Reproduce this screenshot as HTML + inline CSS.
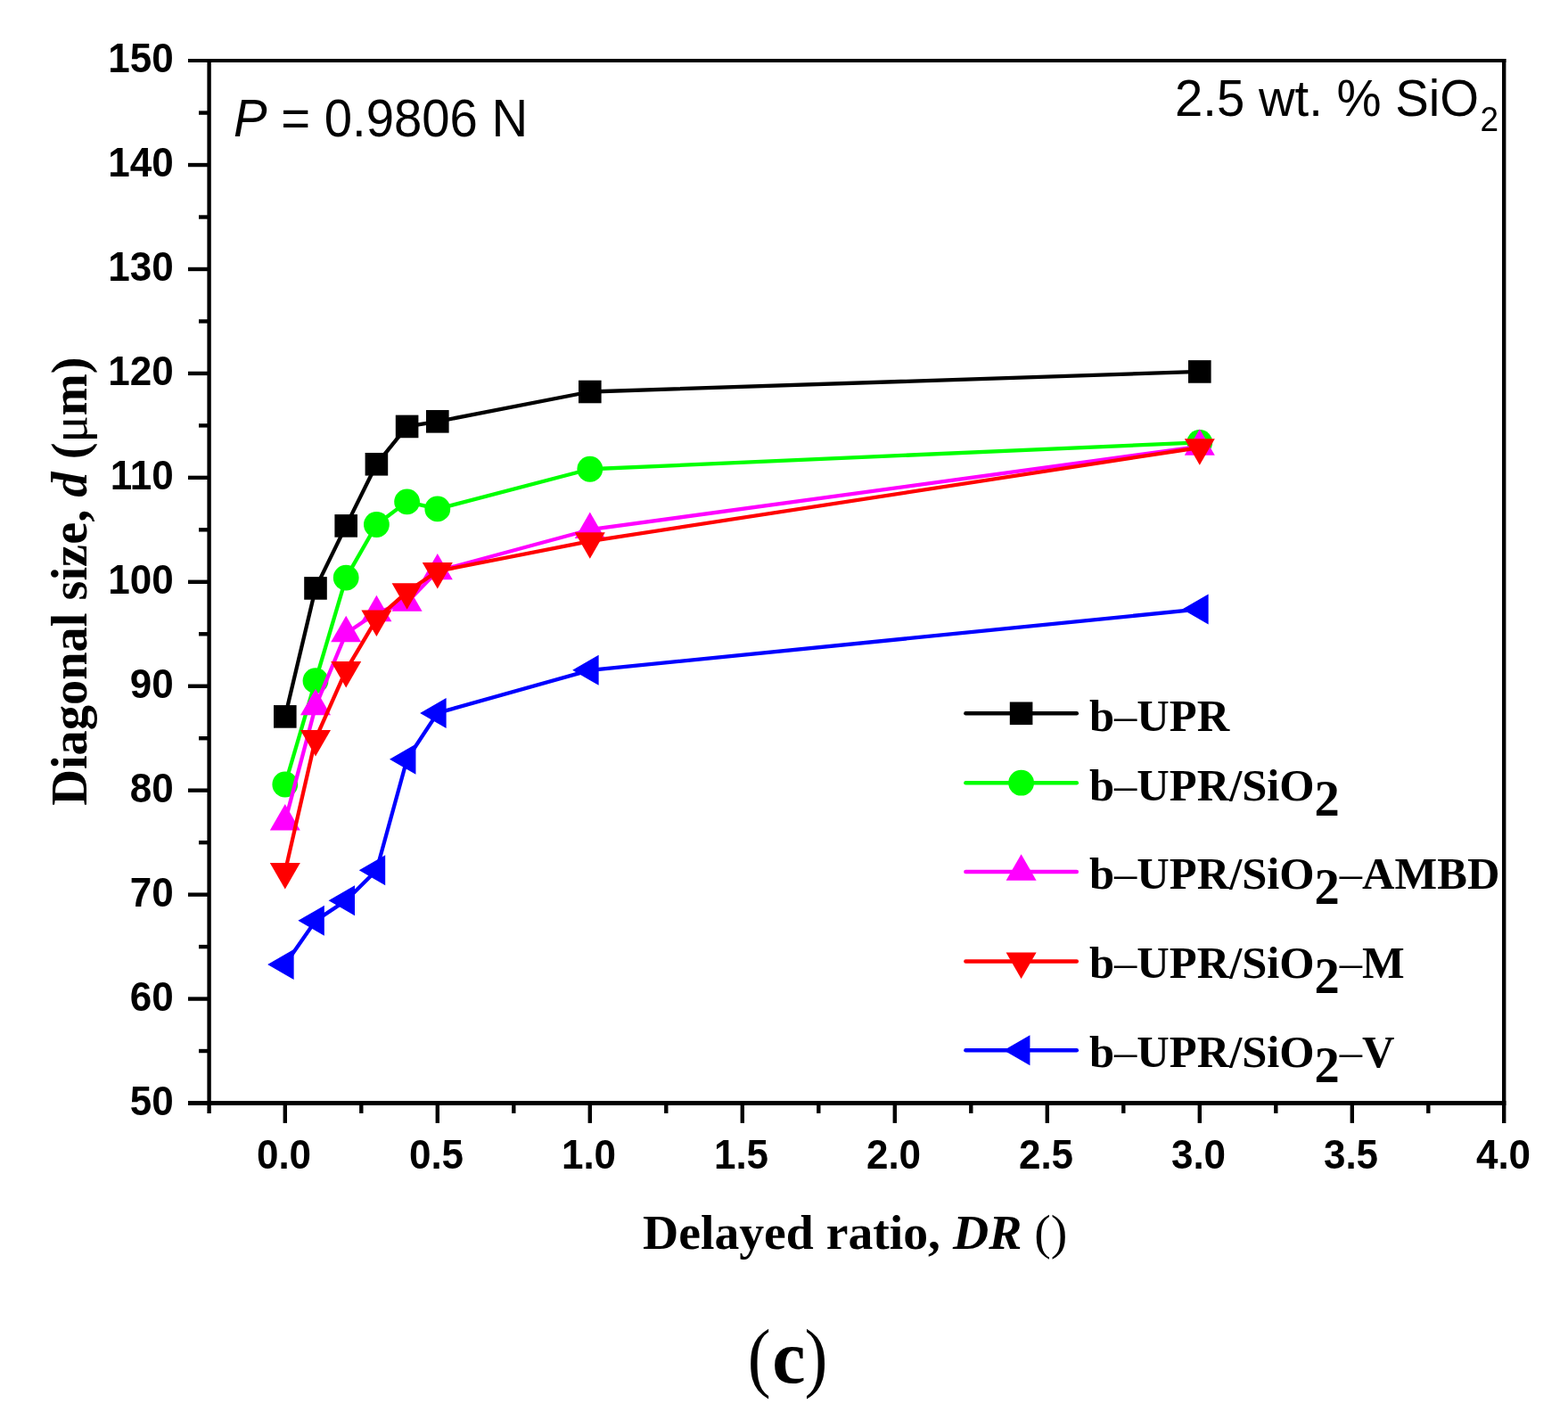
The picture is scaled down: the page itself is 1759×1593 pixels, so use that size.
<!DOCTYPE html>
<html lang="en"><head><meta charset="utf-8"><title>Diagonal size vs delayed ratio</title>
<style>html,body{margin:0;padding:0;background:#fff;}body{width:1759px;height:1593px;overflow:hidden;}svg{display:block;}.tk{font-family:"Liberation Sans",Arial,sans-serif;font-weight:bold;font-size:44px;}.sr{font-family:"Liberation Serif","Times New Roman",serif;font-weight:bold;}.ss{font-family:"Liberation Sans",Arial,sans-serif;}</style></head><body>
<svg width="1759" height="1593" viewBox="0 0 1759 1593">
<rect width="1759" height="1593" fill="#fff"/>
<polyline points="319.8,803.89 354,659.93 388.2,589.89 422.4,520.77 456.6,478.44 490.8,472.83 661.8,439.5 1345.8,416.93" fill="none" stroke="#000000" stroke-width="4.3" stroke-linejoin="round"/>
<rect x="307" y="791.09" width="25.6" height="25.6" fill="#000000"/>
<rect x="341.2" y="647.13" width="25.6" height="25.6" fill="#000000"/>
<rect x="375.4" y="577.09" width="25.6" height="25.6" fill="#000000"/>
<rect x="409.6" y="507.97" width="25.6" height="25.6" fill="#000000"/>
<rect x="443.8" y="465.64" width="25.6" height="25.6" fill="#000000"/>
<rect x="478" y="460.03" width="25.6" height="25.6" fill="#000000"/>
<rect x="649" y="426.7" width="25.6" height="25.6" fill="#000000"/>
<rect x="1333" y="404.13" width="25.6" height="25.6" fill="#000000"/>
<polyline points="319.8,880.01 354,763.66 388.2,648.12 422.4,588.48 456.6,562.87 490.8,570.94 661.8,526.27 1345.8,496.33" fill="none" stroke="#00FF00" stroke-width="4.3" stroke-linejoin="round"/>
<circle cx="319.8" cy="880.01" r="14.4" fill="#00FF00"/>
<circle cx="354" cy="763.66" r="14.4" fill="#00FF00"/>
<circle cx="388.2" cy="648.12" r="14.4" fill="#00FF00"/>
<circle cx="422.4" cy="588.48" r="14.4" fill="#00FF00"/>
<circle cx="456.6" cy="562.87" r="14.4" fill="#00FF00"/>
<circle cx="490.8" cy="570.94" r="14.4" fill="#00FF00"/>
<circle cx="661.8" cy="526.27" r="14.4" fill="#00FF00"/>
<circle cx="1345.8" cy="496.33" r="14.4" fill="#00FF00"/>
<polyline points="319.8,921.65 354,792.43 388.2,710.45 422.4,687.41 456.6,675.84 490.8,640.52 661.8,594.21 1345.8,500.89" fill="none" stroke="#FF00FF" stroke-width="4.3" stroke-linejoin="round"/>
<polygon points="319.8,902.02 336.8,931.46 302.8,931.46" fill="#FF00FF"/>
<polygon points="354,772.8 371,802.24 337,802.24" fill="#FF00FF"/>
<polygon points="388.2,690.82 405.2,720.27 371.2,720.27" fill="#FF00FF"/>
<polygon points="422.4,667.78 439.4,697.23 405.4,697.23" fill="#FF00FF"/>
<polygon points="456.6,656.21 473.6,685.65 439.6,685.65" fill="#FF00FF"/>
<polygon points="490.8,620.89 507.8,650.34 473.8,650.34" fill="#FF00FF"/>
<polygon points="661.8,574.58 678.8,604.03 644.8,604.03" fill="#FF00FF"/>
<polygon points="1345.8,481.27 1362.8,510.71 1328.8,510.71" fill="#FF00FF"/>
<polyline points="319.8,977.89 354,828.79 388.2,751.85 422.4,694.31 456.6,664.03 490.8,640.76 661.8,607.08 1345.8,502.06" fill="none" stroke="#FF0000" stroke-width="4.3" stroke-linejoin="round"/>
<polygon points="319.8,997.52 336.8,968.08 302.8,968.08" fill="#FF0000"/>
<polygon points="354,848.42 371,818.98 337,818.98" fill="#FF0000"/>
<polygon points="388.2,771.48 405.2,742.03 371.2,742.03" fill="#FF0000"/>
<polygon points="422.4,713.94 439.4,684.5 405.4,684.5" fill="#FF0000"/>
<polygon points="456.6,683.66 473.6,654.21 439.6,654.21" fill="#FF0000"/>
<polygon points="490.8,660.39 507.8,630.94 473.8,630.94" fill="#FF0000"/>
<polygon points="661.8,626.71 678.8,597.26 644.8,597.26" fill="#FF0000"/>
<polygon points="1345.8,521.69 1362.8,492.25 1328.8,492.25" fill="#FF0000"/>
<polyline points="319.8,1082.09 354,1032.86 388.2,1010.17 422.4,976.26 456.6,851.71 490.8,799.91 661.8,751.85 1345.8,683.44" fill="none" stroke="#0000FF" stroke-width="4.3" stroke-linejoin="round"/>
<polygon points="300.17,1082.09 329.61,1065.09 329.61,1099.09" fill="#0000FF"/>
<polygon points="334.37,1032.86 363.81,1015.86 363.81,1049.86" fill="#0000FF"/>
<polygon points="368.57,1010.17 398.01,993.17 398.01,1027.17" fill="#0000FF"/>
<polygon points="402.77,976.26 432.21,959.26 432.21,993.26" fill="#0000FF"/>
<polygon points="436.97,851.71 466.41,834.71 466.41,868.71" fill="#0000FF"/>
<polygon points="471.17,799.91 500.61,782.91 500.61,816.91" fill="#0000FF"/>
<polygon points="642.17,751.85 671.61,734.85 671.61,768.85" fill="#0000FF"/>
<polygon points="1326.17,683.44 1355.61,666.44 1355.61,700.44" fill="#0000FF"/>
<g stroke="#000" stroke-width="4.4" fill="none" stroke-linecap="butt">
<line x1="234.6" y1="65.89999999999999" x2="234.6" y2="1248.9"/>
<line x1="1687.2" y1="65.89999999999999" x2="1687.2" y2="1259.9"/>
<line x1="211" y1="68" x2="1689.4" y2="68" stroke-width="4"/>
<line x1="211" y1="1237.5" x2="1689.4" y2="1237.5" stroke-width="5"/>
<line x1="223" y1="1179.03" x2="234.6" y2="1179.03"/>
<line x1="211" y1="1120.56" x2="234.6" y2="1120.56"/>
<line x1="223" y1="1062.09" x2="234.6" y2="1062.09"/>
<line x1="211" y1="1003.62" x2="234.6" y2="1003.62"/>
<line x1="223" y1="945.15" x2="234.6" y2="945.15"/>
<line x1="211" y1="886.68" x2="234.6" y2="886.68"/>
<line x1="223" y1="828.21" x2="234.6" y2="828.21"/>
<line x1="211" y1="769.74" x2="234.6" y2="769.74"/>
<line x1="223" y1="711.27" x2="234.6" y2="711.27"/>
<line x1="211" y1="652.8" x2="234.6" y2="652.8"/>
<line x1="223" y1="594.33" x2="234.6" y2="594.33"/>
<line x1="211" y1="535.86" x2="234.6" y2="535.86"/>
<line x1="223" y1="477.39" x2="234.6" y2="477.39"/>
<line x1="211" y1="418.92" x2="234.6" y2="418.92"/>
<line x1="223" y1="360.45" x2="234.6" y2="360.45"/>
<line x1="211" y1="301.98" x2="234.6" y2="301.98"/>
<line x1="223" y1="243.51" x2="234.6" y2="243.51"/>
<line x1="211" y1="185.04" x2="234.6" y2="185.04"/>
<line x1="223" y1="126.57" x2="234.6" y2="126.57"/>
<line x1="319.8" y1="1237.4" x2="319.8" y2="1259.9"/>
<line x1="405.3" y1="1237.4" x2="405.3" y2="1248.9"/>
<line x1="490.8" y1="1237.4" x2="490.8" y2="1259.9"/>
<line x1="576.3" y1="1237.4" x2="576.3" y2="1248.9"/>
<line x1="661.8" y1="1237.4" x2="661.8" y2="1259.9"/>
<line x1="747.3" y1="1237.4" x2="747.3" y2="1248.9"/>
<line x1="832.8" y1="1237.4" x2="832.8" y2="1259.9"/>
<line x1="918.3" y1="1237.4" x2="918.3" y2="1248.9"/>
<line x1="1003.8" y1="1237.4" x2="1003.8" y2="1259.9"/>
<line x1="1089.3" y1="1237.4" x2="1089.3" y2="1248.9"/>
<line x1="1174.8" y1="1237.4" x2="1174.8" y2="1259.9"/>
<line x1="1260.3" y1="1237.4" x2="1260.3" y2="1248.9"/>
<line x1="1345.8" y1="1237.4" x2="1345.8" y2="1259.9"/>
<line x1="1431.3" y1="1237.4" x2="1431.3" y2="1248.9"/>
<line x1="1516.8" y1="1237.4" x2="1516.8" y2="1259.9"/>
<line x1="1602.3" y1="1237.4" x2="1602.3" y2="1248.9"/>
</g>
<g class="tk" fill="#000">
<text transform="translate(194.6,1250.6) scale(1,1.03)" text-anchor="end">50</text>
<text transform="translate(194.6,1133.66) scale(1,1.03)" text-anchor="end">60</text>
<text transform="translate(194.6,1016.72) scale(1,1.03)" text-anchor="end">70</text>
<text transform="translate(194.6,899.78) scale(1,1.03)" text-anchor="end">80</text>
<text transform="translate(194.6,782.84) scale(1,1.03)" text-anchor="end">90</text>
<text transform="translate(194.6,665.9) scale(1,1.03)" text-anchor="end">100</text>
<text transform="translate(194.6,548.96) scale(1,1.03)" text-anchor="end">110</text>
<text transform="translate(194.6,432.02) scale(1,1.03)" text-anchor="end">120</text>
<text transform="translate(194.6,315.08) scale(1,1.03)" text-anchor="end">130</text>
<text transform="translate(194.6,198.14) scale(1,1.03)" text-anchor="end">140</text>
<text transform="translate(194.6,81.2) scale(1,1.03)" text-anchor="end">150</text>
<text transform="translate(318.5,1310.8) scale(1,1.03)" text-anchor="middle">0.0</text>
<text transform="translate(489.5,1310.8) scale(1,1.03)" text-anchor="middle">0.5</text>
<text transform="translate(660.5,1310.8) scale(1,1.03)" text-anchor="middle">1.0</text>
<text transform="translate(831.5,1310.8) scale(1,1.03)" text-anchor="middle">1.5</text>
<text transform="translate(1002.5,1310.8) scale(1,1.03)" text-anchor="middle">2.0</text>
<text transform="translate(1173.5,1310.8) scale(1,1.03)" text-anchor="middle">2.5</text>
<text transform="translate(1344.5,1310.8) scale(1,1.03)" text-anchor="middle">3.0</text>
<text transform="translate(1515.5,1310.8) scale(1,1.03)" text-anchor="middle">3.5</text>
<text transform="translate(1686.5,1310.8) scale(1,1.03)" text-anchor="middle">4.0</text>
</g>
<text class="sr" font-size="56.4" transform="translate(97.1,903.8) rotate(-90)" fill="#000">Diagonal size, <tspan font-style="italic">d</tspan> (<tspan font-weight="normal">μ</tspan>m)</text>
<text class="sr" font-size="55.7" x="721" y="1401.2" fill="#000">Delayed ratio, <tspan font-style="italic">DR</tspan> <tspan font-weight="normal">()</tspan></text>
<text class="ss" font-size="56.3" transform="translate(262,152.8) scale(1,1.045)" fill="#000"><tspan font-style="italic">P</tspan> = 0.9806 N</text>
<text class="ss" font-size="56.3" transform="translate(1318,130) scale(1,1.035)" fill="#000">2.5 wt. % SiO<tspan font-size="37" dx="1.5" dy="16.6">2</tspan></text>
<line x1="1083.4" y1="800.3" x2="1207.8" y2="800.3" stroke="#000000" stroke-width="4.5" stroke-linecap="round"/>
<rect x="1132.8" y="787.5" width="25.6" height="25.6" fill="#000000"/>
<text class="sr" font-size="50.5" x="1222" y="819.7" fill="#000">b<tspan font-weight="normal">–</tspan>UPR</text>
<line x1="1083.4" y1="878.2" x2="1207.8" y2="878.2" stroke="#00FF00" stroke-width="4.5" stroke-linecap="round"/>
<circle cx="1145.6" cy="878.2" r="14.4" fill="#00FF00"/>
<text class="sr" font-size="50.5" x="1222" y="897.6" fill="#000">b<tspan font-weight="normal">–</tspan>UPR/SiO<tspan font-size="56.5" dy="16.9">2</tspan><tspan dy="-16.9"></tspan></text>
<line x1="1083.4" y1="978.0" x2="1207.8" y2="978.0" stroke="#FF00FF" stroke-width="4.5" stroke-linecap="round"/>
<polygon points="1145.6,958.37 1162.6,987.81 1128.6,987.81" fill="#FF00FF"/>
<text class="sr" font-size="50.5" x="1222" y="997.2" fill="#000">b<tspan font-weight="normal">–</tspan>UPR/SiO<tspan font-size="56.5" dy="16.9">2</tspan><tspan dy="-16.9"><tspan font-weight="normal">–</tspan>AMBD</tspan></text>
<line x1="1083.4" y1="1078.4" x2="1207.8" y2="1078.4" stroke="#FF0000" stroke-width="4.5" stroke-linecap="round"/>
<polygon points="1145.6,1098.03 1162.6,1068.59 1128.6,1068.59" fill="#FF0000"/>
<text class="sr" font-size="50.5" x="1222" y="1097.2" fill="#000">b<tspan font-weight="normal">–</tspan>UPR/SiO<tspan font-size="56.5" dy="16.9">2</tspan><tspan dy="-16.9"><tspan font-weight="normal">–</tspan>M</tspan></text>
<line x1="1083.4" y1="1178.2" x2="1207.8" y2="1178.2" stroke="#0000FF" stroke-width="4.5" stroke-linecap="round"/>
<polygon points="1125.97,1178.2 1155.41,1161.2 1155.41,1195.2" fill="#0000FF"/>
<text class="sr" font-size="50.5" x="1222" y="1196.7" fill="#000">b<tspan font-weight="normal">–</tspan>UPR/SiO<tspan font-size="56.5" dy="16.9">2</tspan><tspan dy="-16.9"><tspan font-weight="normal">–</tspan>V</tspan></text>
<g font-family="Liberation Serif,Times New Roman,serif" fill="#000"><text font-size="86.4" transform="translate(838.8,1550.5) scale(0.9,1)">(</text><text font-size="84" font-weight="bold" x="866.2" y="1551">c</text><text font-size="86.4" transform="translate(902.5,1550.5) scale(0.9,1)">)</text></g>
</svg></body></html>
